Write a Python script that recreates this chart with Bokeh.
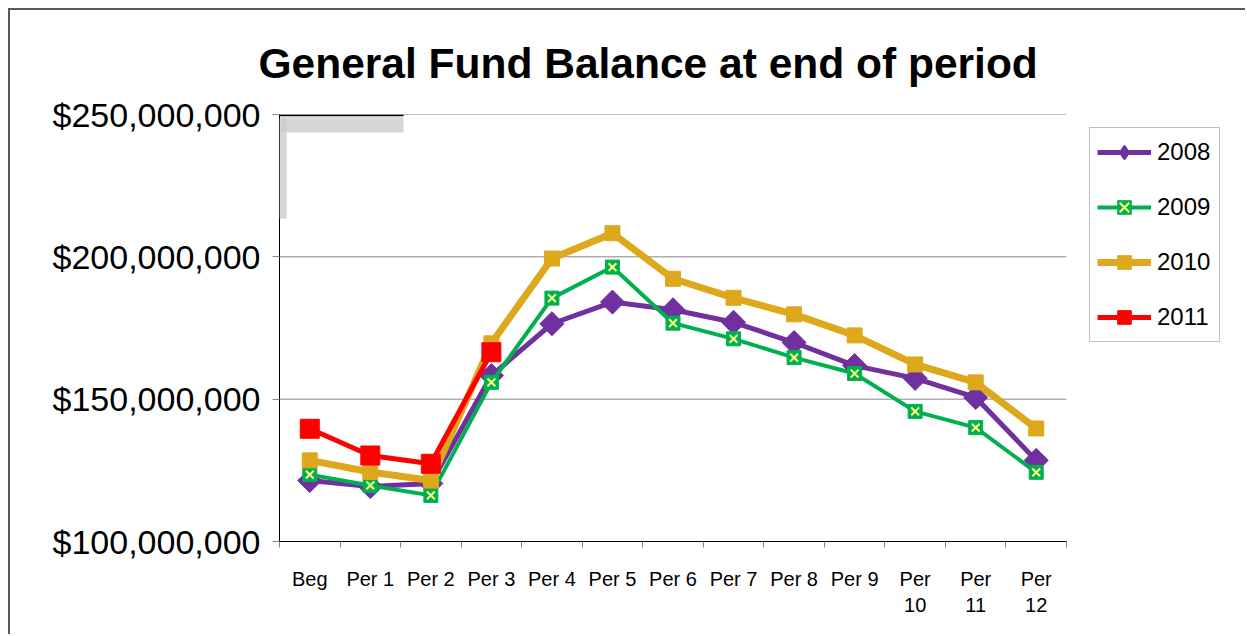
import math
from bokeh.plotting import figure
from bokeh.models import (FixedTicker, NumeralTickFormatter, Legend, LegendItem,
                          BoxAnnotation, Range1d)
from bokeh.embed import file_html
from bokeh.resources import INLINE

categories = ["Beg", "Per 1", "Per 2", "Per 3", "Per 4", "Per 5", "Per 6",
              "Per 7", "Per 8", "Per 9", "Per 10", "Per 11", "Per 12"]
tick_labels = ["Beg", "Per 1", "Per 2", "Per 3", "Per 4", "Per 5", "Per 6",
               "Per 7", "Per 8", "Per 9", "Per\n10", "Per\n11", "Per\n12"]

y2008 = [121_400_000, 119_300_000, 120_400_000, 158_300_000, 176_500_000, 184_100_000,
         181_400_000, 177_000_000, 169_900_000, 161_800_000, 157_300_000, 150_600_000,
         128_500_000]
y2009 = [123_500_000, 119_700_000, 116_200_000, 155_900_000, 185_500_000, 196_400_000,
         176_700_000, 171_200_000, 164_600_000, 159_000_000, 145_700_000, 140_000_000,
         124_300_000]
y2010 = [128_500_000, 124_400_000, 121_400_000, 169_600_000, 199_400_000, 208_300_000,
         192_300_000, 185_600_000, 179_800_000, 172_400_000, 162_200_000, 155_900_000,
         139_700_000]
y2011 = [139_600_000, 130_200_000, 127_300_000, 166_500_000]

y_ticks = [100_000_000, 150_000_000, 200_000_000, 250_000_000]

FONT = "Liberation Sans"
PURPLE = "#7030A0"
GREEN = "#00B050"
GOLD = "#DEA81C"
RED = "#FF0000"
XCOL = "#FFFF80"
GRID = "#868686"

n = len(categories)
xs = [i + 0.5 for i in range(n)]

# plotting area (pixels): categories occupy 787 px, frame extends to hold the legend
CAT_PX = 787
FRAME_PX = 951

p = figure(width=1237, height=626, output_backend="svg", toolbar_location=None,
           x_range=Range1d(0, n * FRAME_PX / CAT_PX),
           y_range=Range1d(y_ticks[0], y_ticks[-1]),
           min_border_left=269, min_border_right=1237 - 269 - FRAME_PX,
           min_border_top=104, min_border_bottom=95)
p.styles = {"margin-left": "8px", "margin-top": "8px",
            "border-top": "2px solid #595959", "border-left": "2px solid #595959"}
p.outline_line_color = None
p.background_fill_color = "white"
p.border_fill_color = "white"

p.title.text = "General Fund Balance at end of period"
p.title.text_font = FONT
p.title.text_font_style = "bold"
p.title.text_font_size = "42.5px"
p.title.text_color = "black"
p.title.align = "left"
p.title.offset = -21
p.title.standoff = 55

# axes
p.xgrid.grid_line_color = None
p.ygrid.grid_line_color = None
p.segment(x0=[0] * len(y_ticks), x1=[n] * len(y_ticks), y0=y_ticks, y1=y_ticks,
          line_color=GRID, line_width=1)

p.yaxis.ticker = FixedTicker(ticks=y_ticks)
p.yaxis.formatter = NumeralTickFormatter(format="$0,0")
p.yaxis.axis_line_color = "black"
p.yaxis.major_tick_out = 7
p.yaxis.major_tick_in = 0
p.yaxis.major_tick_line_color = GRID
p.yaxis.minor_tick_line_color = None
p.yaxis.major_label_text_font = FONT
p.yaxis.major_label_text_font_size = "34px"
p.yaxis.major_label_text_color = "black"
p.yaxis.major_label_standoff = 12

p.xaxis.bounds = (0, n)
p.xaxis.ticker = FixedTicker(ticks=xs, minor_ticks=list(range(n + 1)))
p.xaxis.major_label_overrides = {x: lab for x, lab in zip(xs, tick_labels)}
p.xaxis.axis_line_color = "black"
p.xaxis.major_tick_out = 0
p.xaxis.major_tick_in = 0
p.xaxis.minor_tick_out = 6
p.xaxis.minor_tick_in = 0
p.xaxis.minor_tick_line_color = GRID
p.xaxis.major_label_text_font = FONT
p.xaxis.major_label_text_font_size = "20px"
p.xaxis.major_label_text_color = "black"
p.xaxis.major_label_standoff = 20

# decorative corner artefact from the original image
p.add_layout(BoxAnnotation(left=0.02, right=2.05, top=249_000_000, bottom=243_700_000,
                           fill_color="#cccccc", fill_alpha=0.8, line_color=None))
p.add_layout(BoxAnnotation(left=-0.15, right=0.12, top=248_600_000, bottom=213_500_000,
                           fill_color="#cccccc", fill_alpha=0.8, line_color=None))
p.add_layout(BoxAnnotation(left=-0.02, right=2.05, top=250_000_000, bottom=249_400_000,
                           fill_color="black", fill_alpha=1, line_color=None))
p.add_layout(BoxAnnotation(left=-0.03, right=0.0, top=250_000_000, bottom=213_500_000,
                           fill_color="black", fill_alpha=1, line_color=None))

items = []

l1 = p.line(xs, y2008, line_color=PURPLE, line_width=5, line_join="round")
# diamond glyph (used by the legend), hidden beneath the larger rotated squares
m1d = p.scatter(xs, y2008, marker="diamond", size=21, fill_color=PURPLE,
                line_color=PURPLE, line_width=2)
m1 = p.scatter(xs, y2008, marker="square", angle=math.pi / 4, size=17,
               fill_color=PURPLE, line_color=PURPLE)
items.append(LegendItem(label="2008", renderers=[l1, m1d]))

l2 = p.line(xs, y2009, line_color=GREEN, line_width=4, line_join="round")
m2 = p.scatter(xs, y2009, marker="square", size=14, fill_color=GREEN, line_color=GREEN)
m2x = p.scatter(xs, y2009, marker="x", size=11, line_color=XCOL, line_width=2)
items.append(LegendItem(label="2009", renderers=[l2, m2, m2x]))

l3 = p.line(xs, y2010, line_color=GOLD, line_width=7, line_join="round")
m3 = p.scatter(xs, y2010, marker="square", size=15, fill_color=GOLD, line_color=GOLD)
items.append(LegendItem(label="2010", renderers=[l3, m3]))

x11 = xs[:len(y2011)]
l4 = p.line(x11, y2011, line_color=RED, line_width=5, line_join="round")
m4 = p.scatter(x11, y2011, marker="square", size=19, fill_color=RED, line_color=RED)
items.append(LegendItem(label="2011", renderers=[l4, m4]))

legend = Legend(items=items, location=(810, 199))
legend.border_line_color = "#808080"
legend.border_line_width = 1
legend.background_fill_color = "white"
legend.background_fill_alpha = 1
legend.padding = 7
legend.spacing = 21
legend.margin = 0
legend.glyph_width = 54
legend.glyph_height = 34
legend.label_height = 34
legend.label_width = 55
legend.label_standoff = 6
legend.label_text_font = FONT
legend.label_text_font_size = "24px"
legend.label_text_color = "black"
p.add_layout(legend, "center")

open("out.html", "w").write(file_html(p, INLINE))
